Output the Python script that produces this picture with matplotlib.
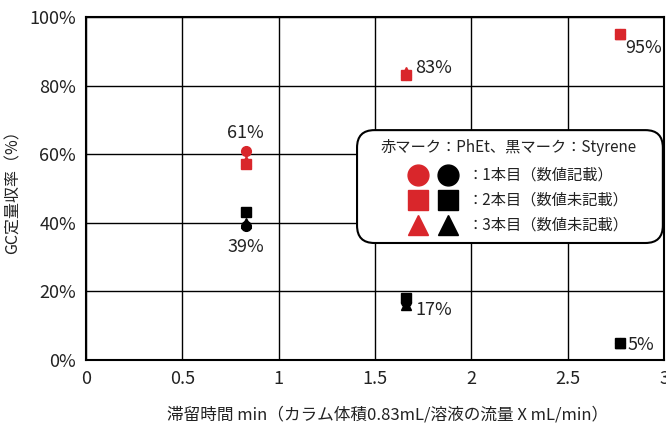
import matplotlib.pyplot as plt
from matplotlib.patches import FancyBboxPatch

plt.rcParams['font.family'] = ['Noto Sans CJK JP', 'DejaVu Sans']

# data (retention time min, GC yield %)
x_pos = [0.83, 1.66, 2.77]
red_1 = [61, 83, 95]
red_2 = [57, 83, 95]
red_3 = [58, 84, 95]
black_1 = [39, 17, 5]
black_2 = [43, 18, 5]
black_3 = [40, 16, 5]
labels = ["61%", "39%", "83%", "95%", "17%", "5%"]

RED = "#d9262b"

fig = plt.figure(figsize=(6.66, 4.23), dpi=100)
ax = fig.add_axes([0.129, 0.149, 0.868, 0.811])

ax.plot(x_pos, red_3, "^", color=RED, ms=7, ls="none")
ax.plot(x_pos, red_1, "o", color=RED, ms=7, ls="none")
ax.plot(x_pos, red_2, "s", color=RED, ms=7, ls="none")
ax.plot(x_pos, black_3, "^", color="black", ms=7, ls="none")
ax.plot(x_pos, black_1, "o", color="black", ms=7, ls="none")
ax.plot(x_pos, black_2, "s", color="black", ms=7, ls="none")

fs = 13
ax.text(x_pos[0], 63.5, labels[0], ha="center", va="bottom", fontsize=fs, color="#222222")
ax.text(x_pos[0], 35.5, labels[1], ha="center", va="top", fontsize=fs, color="#222222")
ax.text(x_pos[1] + 0.05, 85, labels[2], ha="left", va="center", fontsize=fs, color="#222222")
ax.text(x_pos[2] + 0.03, 91, labels[3], ha="left", va="center", fontsize=fs, color="#222222")
ax.text(x_pos[1] + 0.05, 14.5, labels[4], ha="left", va="center", fontsize=fs, color="#222222")
ax.text(x_pos[2] + 0.04, 4.5, labels[5], ha="left", va="center", fontsize=fs, color="#222222")

ax.set_xlim(0, 3)
ax.set_ylim(0, 100)
ax.set_xticks([0, 0.5, 1, 1.5, 2, 2.5, 3])
ax.set_xticklabels(["0", "0.5", "1", "1.5", "2", "2.5", "3"])
ax.set_yticks([0, 20, 40, 60, 80, 100])
ax.set_yticklabels(["0%", "20%", "40%", "60%", "80%", "100%"])
ax.tick_params(length=0, labelsize=13, labelcolor="#222222", pad=7)
ax.grid(True, color="black", lw=1)
ax.set_axisbelow(True)
for s in ax.spines.values():
    s.set_linewidth(1.5)

ax.set_xlabel("滞留時間 min（カラム体積0.83mL/溶液の流量 X mL/min）", fontsize=12, color="#222222")
ax.xaxis.set_label_coords(0.522, -0.135)
ax.set_ylabel("GC定量収率（%）", fontsize=11.5, color="#222222", labelpad=6)

# legend box drawn by hand
box = FancyBboxPatch((0.469, 0.341), 0.529, 0.329, boxstyle="round,pad=0,rounding_size=0.03",
                     transform=ax.transAxes, facecolor="white", edgecolor="black", lw=1.5,
                     zorder=5, clip_on=False, mutation_aspect=1.7)
ax.add_patch(box)
ax.text(0.732, 0.618, "赤マーク：PhEt、黒マーク：Styrene", transform=ax.transAxes,
        ha="center", va="center", fontsize=11, color="#222222", zorder=6)
rows_y = [0.539, 0.466, 0.394]
row_mk = ["o", "s", "^"]
row_txt = ["：1本目（数値記載）", "：2本目（数値未記載）", "：3本目（数値未記載）"]
for yy, mk, tt in zip(rows_y, row_mk, row_txt):
    ax.plot([0.574], [yy], mk, color=RED, ms=15, transform=ax.transAxes, clip_on=False, zorder=6)
    ax.plot([0.626], [yy], mk, color="black", ms=15, transform=ax.transAxes, clip_on=False, zorder=6)
    ax.text(0.66, yy, tt, transform=ax.transAxes, ha="left", va="center",
            fontsize=11, color="#222222", zorder=6)

fig.savefig("out.png", dpi=100)
